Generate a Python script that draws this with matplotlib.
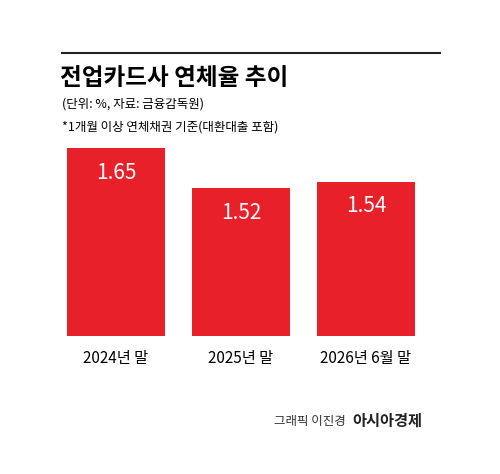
import matplotlib.pyplot as plt

plt.rcParams['font.family'] = ['Noto Sans CJK KR', 'DejaVu Sans']

categories = ['2024년 말', '2025년 말', '2026년 6월 말']
values = [1.65, 1.52, 1.54]

W, H = 500, 474
fig = plt.figure(figsize=(5, 4.74), dpi=100)

# axes spans x 62..440 px, y 140..336 px
ax = fig.add_axes([62 / W, 1 - 336 / H, 378 / W, 196 / H])
x = range(len(categories))
ax.bar(x, values, width=0.79, color='#E8202A')
ax.set_xlim(-0.432, 2.592)
ax.set_ylim(1.039, 1.039 + 196 / 307.7)
for xi, v in zip(x, values):
    ax.text(xi, v - 0.08, f'{v:.2f}', ha='center', va='center',
            color='white', fontsize=15)
ax.set_yticks([])
ax.set_xticks(list(x))
ax.set_xticklabels(categories, fontsize=11)
ax.tick_params(axis='x', length=0, pad=10)
for s in ax.spines.values():
    s.set_visible(False)

fig.add_artist(plt.Line2D([62 / W, 440 / W], [1 - 53 / H] * 2, color='#222222', lw=1.5))
fig.text(60 / W, 1 - 78 / H, '전업카드사 연체율 추이', fontsize=17, fontweight='bold',
         va='center', ha='left')
fig.text(62 / W, 1 - 104 / H, '(단위: %, 자료: 금융감독원)', fontsize=9, va='center', ha='left')
fig.text(62 / W, 1 - 127 / H, '*1개월 이상 연체채권 기준(대환대출 포함)', fontsize=9,
         va='center', ha='left')
fig.text(346 / W, 1 - 421 / H, '그래픽 이진경', fontsize=9, va='center', ha='right', color='#333333')
fig.text(352 / W, 1 - 421 / H, '아시아경제', fontsize=11, fontweight='bold',
         va='center', ha='left', color='#222222')

fig.savefig('out.png', dpi=100)
